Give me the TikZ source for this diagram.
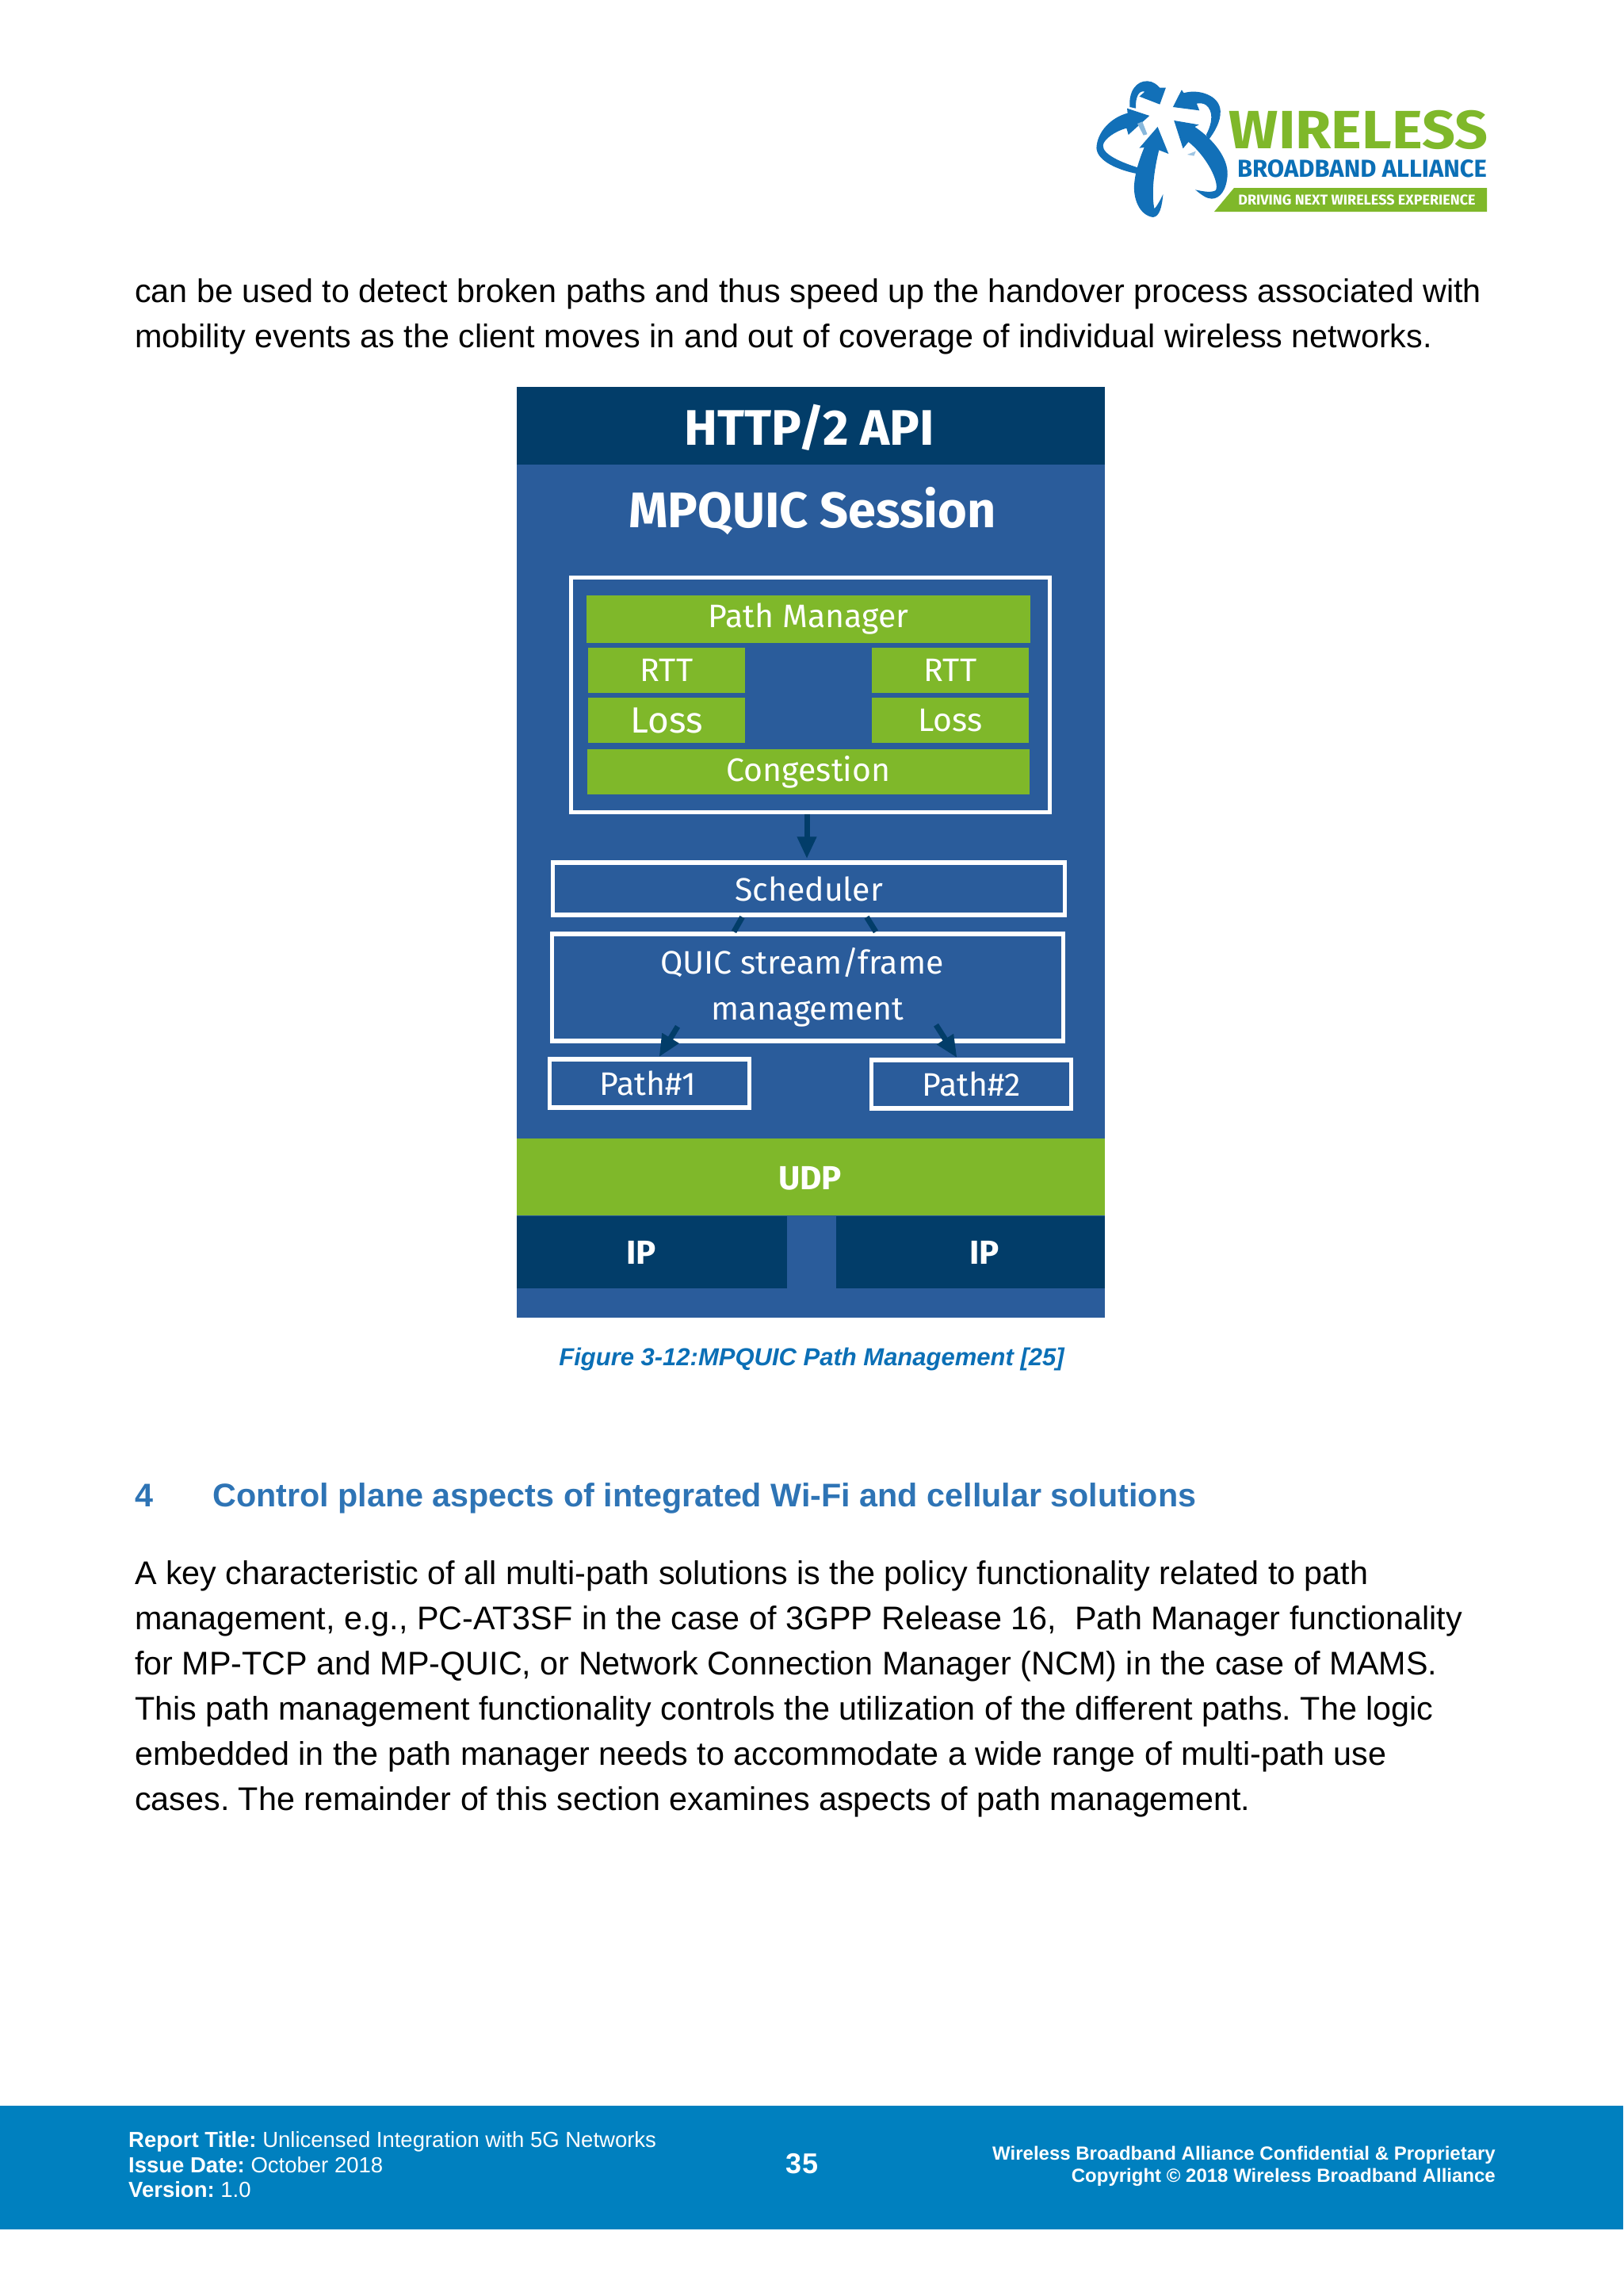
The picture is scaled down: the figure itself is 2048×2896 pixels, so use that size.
\documentclass[tikz,border=0pt]{standalone}
\usepackage{fontspec}
\usepackage{graphicx}
\setmainfont{Liberation Sans}
\newfontfamily\diagfont{Fira Sans}
\usetikzlibrary{arrows.meta}
\definecolor{bodyblue}{HTML}{2A5C9B}
\definecolor{darkblue}{HTML}{023D69}
\definecolor{leafgreen}{HTML}{7FB82A}
\definecolor{footblue}{HTML}{0080BF}
\definecolor{capblue}{HTML}{0B6FB6}
\definecolor{headblue}{HTML}{2E74B5}
\definecolor{logoblue}{HTML}{1270B8}
\tikzset{
  greenbox/.style={fill=leafgreen,inner sep=0pt,text=white,font=\diagfont\fontsize{41}{46}\selectfont},
  whitebox/.style={draw=white,line width=5.5pt,inner sep=0pt,text=white,align=center,font=\diagfont\fontsize{41}{58}\selectfont},
  bandlabel/.style={text=white,inner sep=0pt,font=\diagfont\bfseries\fontsize{42}{46}\selectfont},
  titlelabel/.style={text=white,inner sep=0pt,font=\diagfont\bfseries\fontsize{63}{70}\selectfont},
  flowline/.style={draw=darkblue,line width=7pt},
  flowarrow/.style={flowline,-{Triangle[length=28pt,width=23pt]}},
  para/.style={anchor=north west,inner sep=0pt,align=left,font=\frenchspacing\fontsize{41.3}{57}\selectfont},
  sechead/.style={anchor=base west,inner sep=0pt,text=headblue,font=\bfseries\fontsize{41.3}{50}\selectfont}
}
\begin{document}
\begin{tikzpicture}[x=1pt,y=-1pt]
  \useasboundingbox (0,0) rectangle (2048,2896);
  \fill[white] (0,0) rectangle (2048,2896);

  % Logo arrows, in crop coordinates
  \begin{scope}[shift={(1360,80)},x=0.3444pt,y=-0.3333pt]
    \fill[logoblue] (292,240) -- (332,342) -- (297,328) .. controls (275,420) and (270,500) .. (280,550)
      .. controls (290,540) and (300,520) .. (312,495) .. controls (308,540) and (300,580) .. (275,582)
      .. controls (225,575) and (200,510) .. (207,450) .. controls (212,400) and (230,350) .. (243,318) -- (225,320) -- cycle;
    \fill[logoblue] (352,216) -- (443,232) -- (428,240) .. controls (500,290) and (550,360) .. (548,420)
      .. controls (545,480) and (520,512) .. (490,512) .. controls (470,512) and (450,495) .. (430,478)
      .. controls (460,485) and (490,490) .. (505,480) .. controls (520,450) and (470,350) .. (405,297) -- (385,322) -- cycle;
    \fill[logoblue] (262,198) -- (180,170) -- (182,188) .. controls (120,205) and (70,260) .. (68,320)
      .. controls (70,370) and (150,405) .. (220,418) -- (222,395) .. controls (160,375) and (90,345) .. (92,310)
      .. controls (95,285) and (140,255) .. (178,245) -- (185,270) -- cycle;
    \fill[logoblue] (322,92) -- (300,155) -- (225,125) -- (245,107) .. controls (225,100) and (210,125) .. (212,170)
      -- (190,165) .. controls (185,105) and (215,65) .. (255,67) .. controls (275,68) and (290,80) .. (300,92) -- cycle;
    \fill[logoblue] (348,165) -- (380,100) -- (388,112) .. controls (440,95) and (520,120) .. (522,180)
      .. controls (524,220) and (500,260) .. (478,290) -- (470,270) .. controls (495,220) and (495,180) .. (470,158)
      .. controls (460,150) and (445,150) .. (435,152) -- (445,178) -- cycle;
    \fill[logoblue!50] (218,228) -- (236,220) -- (254,268) -- (240,272) -- cycle;
    \fill[logoblue!40] (400,345) -- (432,332) -- (425,350) -- cycle;
  \end{scope}

  % Logo lettering
  \node[inner sep=0pt,text=leafgreen,font=\diagfont\bfseries\fontsize{68}{72}\selectfont] (logotitle) at (1714,163.5) {\scalebox{1.08}[1]{WIRELESS}};
  \node[inner sep=0pt,text=capblue,font=\diagfont\bfseries\fontsize{31}{36}\selectfont] (logosub) at (1718.5,213) {BROADBAND ALLIANCE};
  \fill[leafgreen] (1532,267) -- (1557,237) -- (1876,237) -- (1876,267) -- cycle;
  \node[inner sep=0pt,text=white,font=\diagfont\bfseries\fontsize{18}{22}\selectfont] (logotag) at (1712,252.5) {DRIVING NEXT WIRELESS EXPERIENCE};

  % Text above the figure
  \node[para] (topnote) at (170,351) {can be used to detect broken paths and thus speed up the handover process associated with\\
    mobility events as the client moves in and out of coverage of individual wireless networks.};

  % Figure background and bands
  \fill[bodyblue] (652,488) rectangle (1394,1662);
  \fill[darkblue] (652,488) rectangle (1394,586);
  \node[titlelabel] (httpapi) at (1021,539) {HTTP/2 API};
  \node[titlelabel] (session) at (1025,645) {MPQUIC Session};

  % Path manager block
  \node[whitebox,minimum width=604pt,minimum height=296pt] (manager) at (1022.5,876.5) {};
  \node[greenbox,minimum width=560pt,minimum height=60pt] (pathmgr) at (1020,781) {Path Manager};
  \node[greenbox,minimum width=198pt,minimum height=57pt] (rttleft) at (841,845.5) {RTT};
  \node[greenbox,minimum width=198pt,minimum height=57pt] (rttright) at (1199,845.5) {RTT};
  \node[greenbox,minimum width=198pt,minimum height=57pt,font=\diagfont\fontsize{46}{50}\selectfont] (lossleft) at (841,908.5) {Loss};
  \node[greenbox,minimum width=198pt,minimum height=57pt] (lossright) at (1199,908.5) {Loss};
  \node[greenbox,minimum width=558pt,minimum height=57pt] (congestion) at (1020,973.5) {Congestion};

  % Scheduler and stream management
  \node[whitebox,minimum width=646pt,minimum height=66pt] (sched) at (1020.5,1121) {Scheduler};
  \node[whitebox,minimum width=645pt,minimum height=135pt] (quic) at (1019,1245.5) {\hspace*{-14pt}QUIC stream/frame\\management};

  % Paths
  \node[whitebox,minimum width=252pt,minimum height=61pt] (pathone) at (819.5,1366.5) {\hspace*{-4pt}Path\#1};
  \node[whitebox,minimum width=252pt,minimum height=61pt] (pathtwo) at (1225.5,1367.5) {Path\#2};

  % Connectors
  \draw[flowarrow] ([xshift=-4.5pt]manager.south) -- ([xshift=-2.5pt,yshift=2pt]sched.north);
  \draw[flowline] ([xshift=-84pt]sched.south) -- ([xshift=-93pt]quic.north);
  \draw[flowline] ([xshift=73pt]sched.south) -- ([xshift=86pt]quic.north);
  \draw[flowarrow] ([xshift=-164pt,yshift=21pt]quic.south) -- ([xshift=12pt]pathone.north);
  \draw[flowarrow] ([xshift=162pt,yshift=23pt]quic.south) -- ([xshift=-18pt]pathtwo.north);

  % UDP and IP bands
  \fill[leafgreen] (652,1436) rectangle (1394,1533);
  \node[bandlabel] (udp) at (1022,1486) {UDP};
  \fill[darkblue] (652,1534) rectangle (993,1625);
  \fill[darkblue] (1055,1534) rectangle (1394,1625);
  \node[bandlabel] (ipleft) at (809,1580) {IP};
  \node[bandlabel] (ipright) at (1242,1580) {IP};

  % Caption and section text
  \node[inner sep=0pt,text=capblue,font=\bfseries\itshape\fontsize{31}{36}\selectfont] (caption) at (1024,1714) {Figure 3-12:MPQUIC Path Management [25]};
  \node[sechead] (secnum) at (170,1900) {4};
  \node[sechead] (sectitle) at (268,1900) {Control plane aspects of integrated Wi-Fi and cellular solutions};
  \node[para] (secbody) at (170,1968.5) {A key characteristic of all multi-path solutions is the policy functionality related to path\\
    management, e.g., PC-AT3SF in the case of 3GPP Release 16,\ \ Path Manager functionality\\
    for MP-TCP and MP-QUIC, or Network Connection Manager (NCM) in the case of MAMS.\\
    This path management functionality controls the utilization of the different paths. The logic\\
    embedded in the path manager needs to accommodate a wide range of multi-path use\\
    cases. The remainder of this section examines aspects of path management.};

  % Footer
  \fill[footblue] (0,2656) rectangle (2048,2812);
  \node[anchor=north west,inner sep=0pt,align=left,text=white,font=\frenchspacing\fontsize{27.5}{31.5}\selectfont] (footleft) at (162,2688.5) {\textbf{Report Title:} Unlicensed Integration with 5G Networks\\
    \textbf{Issue Date:} October 2018\\
    \textbf{Version:} 1.0};
  \node[inner sep=0pt,text=white,font=\bfseries\fontsize{36}{40}\selectfont] (pagenum) at (1012,2729) {35};
  \node[anchor=north east,inner sep=0pt,align=right,text=white,font=\bfseries\fontsize{24}{27.5}\selectfont] (footright) at (1887,2707) {Wireless Broadband Alliance Confidential \& Proprietary\\
    Copyright © 2018 Wireless Broadband Alliance};
\end{tikzpicture}
\end{document}
